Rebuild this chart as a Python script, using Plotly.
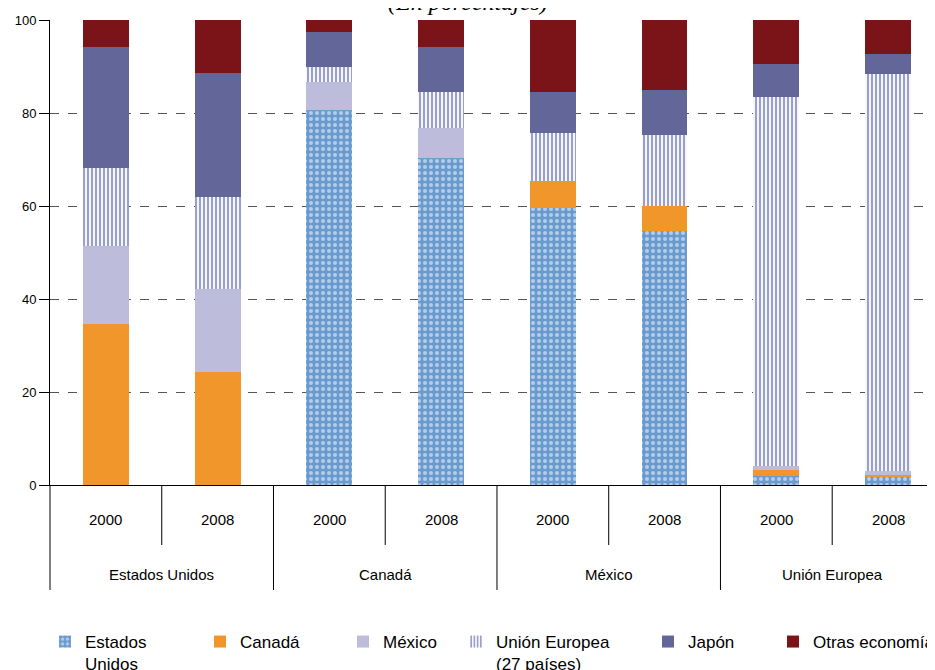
import plotly.graph_objects as go

# categories
groups = ["Estados Unidos", "Canadá", "México", "Unión Europea"]
years = ["2000", "2008"]

# shares by origin (%), one value per bar: EEUU 2000, EEUU 2008, CAN 2000, CAN 2008, MEX 2000, MEX 2008, UE 2000, UE 2008
estados_unidos = [0, 0, 80.6, 70.3, 59.6, 54.6, 1.9, 1.9]
canada = [34.6, 24.3, 0, 0, 5.8, 5.4, 1.3, 0.2]
mexico = [16.8, 17.9, 6.1, 6.5, 0, 0, 0.9, 0.9]
union_europea = [16.8, 19.7, 3.2, 7.7, 10.3, 15.3, 79.3, 85.4]
japon = [26.0, 26.6, 7.5, 9.7, 8.8, 9.6, 7.1, 4.3]
otras = [5.8, 11.5, 2.6, 5.8, 15.5, 15.1, 9.5, 7.3]

yticks = [0, 20, 40, 60, 80, 100]

n = len(groups) * len(years)
xs = list(range(n))
xr = [-0.5, 7.42]
font = "Liberation Sans, Arial, sans-serif"

fig = go.Figure()

series = [
    ("Estados<br>Unidos", estados_unidos, "#6a9bcf", dict(shape=".", fgcolor="white", bgcolor="#6a9bcf", size=6, solidity=0.35)),
    ("Canadá", canada, "#f0962a", None),
    ("México", mexico, "#bebcdb", None),
    ("Unión Europea<br>(27 países)", union_europea, "#34409c", dict(shape="|", fgcolor="#34409c", bgcolor="white", size=4, solidity=0.55)),
    ("Japón", japon, "#636699", None),
    ("Otras economías", otras, "#7a1418", None),
]
# page x of each legend symbol's left edge
legend_px = [59, 214, 357, 470, 662, 787]

for i, (name, vals, col, pat) in enumerate(series):
    marker = dict(color=col, line=dict(width=0))
    if pat:
        marker["pattern"] = pat
    lg = "legend" if i == 0 else "legend%d" % (i + 1)
    fig.add_trace(go.Bar(x=xs, y=vals, name=name, marker=marker, width=0.41, legend=lg))

# page has an 8px body margin, so the figure is shrunk to fit the window
W, H = 927, 662
ml, mr, mt, mb = 42, 0, 12, 185
pw, ph = W - ml - mr, H - mt - mb

def xpaper(v):
    return (v - xr[0]) / (xr[1] - xr[0])

shapes = []
annotations = []
for i in range(n):
    annotations.append(dict(x=i, xref="x", y=-35 / ph, yref="paper", yanchor="middle", text=years[i % 2],
                            showarrow=False, font=dict(size=15, family=font, color="black")))
for g, name in enumerate(groups):
    annotations.append(dict(x=2 * g + 0.5, xref="x", y=-89 / ph, yref="paper", yanchor="middle", text=name,
                            showarrow=False, font=dict(size=15, family=font, color="black")))
    shapes.append(dict(type="line", xref="paper", yref="paper", x0=xpaper(2 * g + 0.5), x1=xpaper(2 * g + 0.5),
                       y0=0, y1=-60 / ph, line=dict(color="black", width=1)))
for g in range(len(groups) + 1):
    shapes.append(dict(type="line", xref="paper", yref="paper", x0=xpaper(2 * g - 0.5), x1=xpaper(2 * g - 0.5),
                       y0=0, y1=-105 / ph, line=dict(color="black", width=1)))

annotations.append(dict(x=(460 - ml) / pw, xref="paper", y=1 + 18 / ph, yref="paper", text="(En porcentajes)",
                        showarrow=False, yanchor="middle", xanchor="center",
                        font=dict(size=24, family="Liberation Serif, serif", color="black", style="italic")))

layout_legends = {}
for i, lx in enumerate(legend_px):
    key = "legend" if i == 0 else "legend%d" % (i + 1)
    layout_legends[key] = dict(x=(lx - 8 - 14 - ml) / pw, xanchor="left", y=-(139 / ph), yanchor="top",
                               orientation="h", valign="top", bgcolor="rgba(0,0,0,0)",
                               font=dict(size=17, family=font, color="black"))

fig.update_layout(
    width=W, height=H,
    margin=dict(l=ml, r=mr, t=mt, b=mb, autoexpand=False),
    barmode="stack",
    plot_bgcolor="white", paper_bgcolor="white",
    showlegend=True,
    shapes=shapes,
    annotations=annotations,
    xaxis=dict(range=xr, showticklabels=False, showgrid=False, zeroline=False,
               showline=True, linecolor="black", linewidth=1, ticks=""),
    yaxis=dict(range=[0, 100], tickvals=yticks, showgrid=True, gridcolor="#555555", griddash="dash",
               gridwidth=1, zeroline=False, showline=True, linecolor="black", linewidth=1,
               ticks="outside", ticklen=10, tickcolor="black",
               tickfont=dict(size=13, family=font, color="black")),
    **layout_legends,
)

fig.write_html("out.html")
